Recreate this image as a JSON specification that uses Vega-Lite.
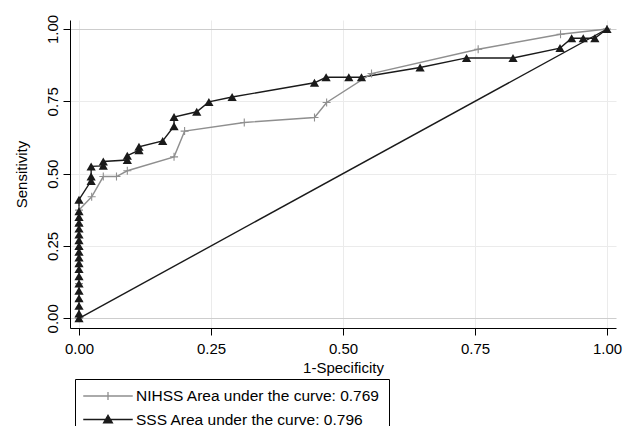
{
  "$schema": "https://vega.github.io/schema/vega-lite/v6.json",
  "width": 546,
  "height": 308,
  "autosize": {"type": "none"},
  "padding": {"left": 70, "top": 20, "right": 17, "bottom": 98},
  "background": "white",
  "config": {
    "view": {"stroke": null},
    "font": "Liberation Sans",
    "axis": {
      "labelFontSize": 15,
      "titleFontSize": 15,
      "titleFontWeight": "normal",
      "labelColor": "black",
      "titleColor": "black",
      "domainColor": "black",
      "domainWidth": 1,
      "tickColor": "black",
      "tickSize": 7,
      "labelFlush": false,
      "labelOverlap": false
    }
  },
  "datasets": {
    "diag": [{"x": 0, "y": 0}, {"x": 1, "y": 1}],
    "roc": [
      {"s": "SSS", "o": 1, "x": 0, "y": 0},
      {"s": "SSS", "o": 2, "x": 0, "y": 0.017},
      {"s": "SSS", "o": 3, "x": 0, "y": 0.043},
      {"s": "SSS", "o": 4, "x": 0, "y": 0.069},
      {"s": "SSS", "o": 5, "x": 0, "y": 0.095},
      {"s": "SSS", "o": 6, "x": 0, "y": 0.12},
      {"s": "SSS", "o": 7, "x": 0, "y": 0.145},
      {"s": "SSS", "o": 8, "x": 0, "y": 0.17},
      {"s": "SSS", "o": 9, "x": 0, "y": 0.19},
      {"s": "SSS", "o": 10, "x": 0, "y": 0.21},
      {"s": "SSS", "o": 11, "x": 0, "y": 0.23},
      {"s": "SSS", "o": 12, "x": 0, "y": 0.25},
      {"s": "SSS", "o": 13, "x": 0, "y": 0.27},
      {"s": "SSS", "o": 14, "x": 0, "y": 0.29},
      {"s": "SSS", "o": 15, "x": 0, "y": 0.31},
      {"s": "SSS", "o": 16, "x": 0, "y": 0.33},
      {"s": "SSS", "o": 17, "x": 0, "y": 0.35},
      {"s": "SSS", "o": 18, "x": 0, "y": 0.37},
      {"s": "SSS", "o": 19, "x": 0, "y": 0.41},
      {"s": "SSS", "o": 20, "x": 0.023, "y": 0.475},
      {"s": "SSS", "o": 21, "x": 0.023, "y": 0.49},
      {"s": "SSS", "o": 22, "x": 0.023, "y": 0.525},
      {"s": "SSS", "o": 23, "x": 0.046, "y": 0.527},
      {"s": "SSS", "o": 24, "x": 0.046, "y": 0.542},
      {"s": "SSS", "o": 25, "x": 0.0915, "y": 0.547},
      {"s": "SSS", "o": 26, "x": 0.0915, "y": 0.562},
      {"s": "SSS", "o": 27, "x": 0.1136, "y": 0.581},
      {"s": "SSS", "o": 28, "x": 0.1136, "y": 0.593},
      {"s": "SSS", "o": 29, "x": 0.1585, "y": 0.613},
      {"s": "SSS", "o": 30, "x": 0.18, "y": 0.664},
      {"s": "SSS", "o": 31, "x": 0.18, "y": 0.696},
      {"s": "SSS", "o": 32, "x": 0.223, "y": 0.714},
      {"s": "SSS", "o": 33, "x": 0.246, "y": 0.748},
      {"s": "SSS", "o": 34, "x": 0.29, "y": 0.765},
      {"s": "SSS", "o": 35, "x": 0.446, "y": 0.814},
      {"s": "SSS", "o": 36, "x": 0.468, "y": 0.833},
      {"s": "SSS", "o": 37, "x": 0.511, "y": 0.833},
      {"s": "SSS", "o": 38, "x": 0.535, "y": 0.833},
      {"s": "SSS", "o": 39, "x": 0.646, "y": 0.867},
      {"s": "SSS", "o": 40, "x": 0.734, "y": 0.9},
      {"s": "SSS", "o": 41, "x": 0.822, "y": 0.9},
      {"s": "SSS", "o": 42, "x": 0.911, "y": 0.934},
      {"s": "SSS", "o": 43, "x": 0.933, "y": 0.968},
      {"s": "SSS", "o": 44, "x": 0.955, "y": 0.968},
      {"s": "SSS", "o": 45, "x": 0.977, "y": 0.968},
      {"s": "SSS", "o": 46, "x": 1, "y": 1},
      {"s": "NIHSS", "o": 1, "x": 0, "y": 0},
      {"s": "NIHSS", "o": 2, "x": 0, "y": 0.06},
      {"s": "NIHSS", "o": 3, "x": 0, "y": 0.12},
      {"s": "NIHSS", "o": 4, "x": 0, "y": 0.18},
      {"s": "NIHSS", "o": 5, "x": 0, "y": 0.24},
      {"s": "NIHSS", "o": 6, "x": 0, "y": 0.3},
      {"s": "NIHSS", "o": 7, "x": 0, "y": 0.322},
      {"s": "NIHSS", "o": 8, "x": 0, "y": 0.374},
      {"s": "NIHSS", "o": 9, "x": 0.024, "y": 0.42},
      {"s": "NIHSS", "o": 10, "x": 0.046, "y": 0.49},
      {"s": "NIHSS", "o": 11, "x": 0.071, "y": 0.49},
      {"s": "NIHSS", "o": 12, "x": 0.0915, "y": 0.51},
      {"s": "NIHSS", "o": 13, "x": 0.18, "y": 0.558},
      {"s": "NIHSS", "o": 14, "x": 0.2, "y": 0.647},
      {"s": "NIHSS", "o": 15, "x": 0.313, "y": 0.677},
      {"s": "NIHSS", "o": 16, "x": 0.446, "y": 0.694},
      {"s": "NIHSS", "o": 17, "x": 0.469, "y": 0.746},
      {"s": "NIHSS", "o": 18, "x": 0.554, "y": 0.846},
      {"s": "NIHSS", "o": 19, "x": 0.756, "y": 0.93},
      {"s": "NIHSS", "o": 20, "x": 0.912, "y": 0.982},
      {"s": "NIHSS", "o": 21, "x": 1, "y": 1}
    ]
  },
  "encoding": {
    "x": {
      "field": "x",
      "type": "quantitative",
      "scale": {"domain": [-0.01705, 1.01705], "nice": false, "zero": false},
      "axis": {
        "title": "1-Specificity",
        "values": [0, 0.25, 0.5, 0.75, 1],
        "format": ".2f",
        "labelPadding": 6,
        "titlePadding": 4,
        "gridColor": "#ebebeb",
        "gridWidth": 1
      }
    },
    "y": {
      "field": "y",
      "type": "quantitative",
      "scale": {"domain": [-0.0335, 1.0311], "nice": false, "zero": false},
      "axis": {
        "title": "Sensitivity",
        "values": [0, 0.25, 0.5, 0.75, 1],
        "format": ".2f",
        "labelAngle": 270,
        "labelAlign": "center",
        "labelBaseline": "bottom",
        "labelPadding": 3,
        "titlePadding": 16,
        "gridColor": {"condition": {"test": "datum.value === 0 || datum.value === 1", "value": "#cdcdcd"}, "value": "#ebebeb"},
        "gridWidth": 1
      }
    }
  },
  "layer": [
    {
      "data": {"name": "diag"},
      "mark": {"type": "line", "color": "#1a1a1a", "strokeWidth": 1.4}
    },
    {
      "data": {"name": "roc"},
      "mark": {"type": "line", "strokeWidth": 1.4},
      "encoding": {
        "order": {"field": "o", "type": "quantitative"},
        "color": {
          "field": "s",
          "type": "nominal",
          "scale": {"domain": ["NIHSS", "SSS"], "range": ["#8f8f8f", "#1a1a1a"]},
          "legend": {
            "orient": "none",
            "legendX": 5,
            "legendY": 359,
            "direction": "vertical",
            "title": null,
            "padding": 9,
            "strokeColor": "black",
            "fillColor": "white",
            "labelFontSize": 15.5,
            "labelColor": "black",
            "labelOffset": 20,
            "labelLimit": 800,
            "rowPadding": 6.5,
            "symbolSize": 200,
            "symbolOffset": 16,
            "symbolStrokeWidth": 1.3,
            "labelExpr": "datum.value === 'NIHSS' ? 'NIHSS Area under the curve: 0.769' : 'SSS Area under the curve: 0.796'",
            "encode": {
              "symbols": {
                "update": {
                  "shape": {"signal": "datum.value === 'SSS' ? 'M-3.5,0H3.5M-0.62,0.46L0,-0.6L0.62,0.46Z' : 'M-3.5,0H3.5M0,-0.57V0.57'"},
                  "fill": {"signal": "datum.value === 'SSS' ? '#1a1a1a' : 'transparent'"},
                  "size": {"value": 200},
                  "strokeWidth": {"value": 1.3},
                  "opacity": {"value": 1}
                }
              }
            }
          }
        }
      }
    },
    {
      "data": {"name": "roc"},
      "transform": [{"filter": "datum.s === 'NIHSS'"}],
      "mark": {"type": "point", "shape": "M-1,0H1M0,-1V1", "size": 64, "stroke": "#8f8f8f", "strokeWidth": 1.1, "filled": false, "opacity": 1}
    },
    {
      "data": {"name": "roc"},
      "transform": [{"filter": "datum.s === 'SSS'"}],
      "mark": {"type": "point", "shape": "triangle-up", "size": 85, "filled": true, "color": "#1a1a1a", "opacity": 1}
    }
  ]
}
